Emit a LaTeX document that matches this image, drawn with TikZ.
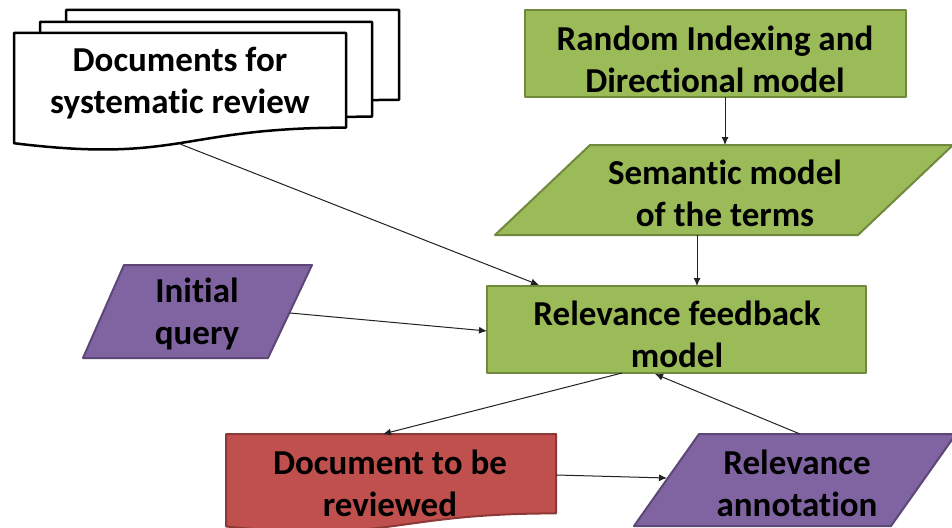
\documentclass[tikz,border=0pt]{standalone}
\usepackage{fontspec}
\setmainfont{Carlito}[Ligatures=NoCommon]
\usetikzlibrary{arrows.meta}
\definecolor{gfill}{HTML}{9BBB59}
\definecolor{gline}{HTML}{71893F}
\definecolor{pfill}{HTML}{8064A2}
\definecolor{pline}{HTML}{5C4776}
\definecolor{rfill}{HTML}{C0504D}
\definecolor{rline}{HTML}{8C3836}
\definecolor{conn}{HTML}{222222}
\newcommand\mydocpath[5]{%
  \path[#5] (#1,#2) -- ({#1+#3},#2) -- ({#1+#3},{#2+0.802*#4})
    .. controls ({#1+#3/2},{#2+0.802*#4}) and ({#1+#3/2},{#2+1.107*#4}) .. (#1,{#2+0.934*#4}) -- cycle;}
\tikzset{
  lbl/.style={align=center,font=\fontsize{35}{42}\selectfont\bfseries,inner sep=0pt},
  greenshape/.style={fill=gfill,draw=gline,line width=2pt,line join=round},
  purpleshape/.style={fill=pfill,draw=pline,line width=2pt,line join=round},
  redshape/.style={fill=rfill,draw=rline,line width=2pt,line join=round},
  docshape/.style={fill=white,draw=black,line width=2.5pt,line join=round},
  conn/.style={draw=conn,line width=1pt,-{Latex[length=8pt,width=7pt]}}
}
\begin{document}
\begin{tikzpicture}[x=1pt,y=-1pt]
\clip (0,0) rectangle (952,527);
\fill[white] (0,0) rectangle (952,527);
% multi-document
\mydocpath{66}{10}{333}{112}{docshape}
\mydocpath{40}{22}{332}{118}{docshape}
\mydocpath{14}{33}{332}{118}{docshape}
\node[lbl] (docs) at (180,83) {Documents for\\systematic review};
% random indexing
\path[greenshape] (525,10) rectangle (906,97);
\node[lbl] (rim) at (715,59) {Random Indexing and\\Directional model};
% semantic
\path[greenshape] (590,145) -- (953,145) -- (858,235) -- (495,235) -- cycle;
\node[lbl] (sem) at (725,193) {Semantic model\\of the terms};
% relevance feedback
\path[greenshape] (487,286) rectangle (866,373);
\node[lbl] (rfm) at (677,334) {Relevance feedback\\model};
% initial query
\path[purpleshape] (124,265) -- (312,265) -- (268,358) -- (83,358) -- cycle;
\node[lbl] (iq) at (197,314) {Initial\\query};
% document to be reviewed
\mydocpath{226}{434}{330}{99}{redshape}
\node[lbl] (dtr) at (390,483) {Document to be\\reviewed};
% relevance annotation
\path[purpleshape] (699,434) -- (956,434) -- (891,526) -- (634,526) -- cycle;
\node[lbl] (ra) at (797,483) {Relevance\\annotation};
% connector end points
\coordinate (rimS) at (725,97);
\coordinate (semN) at (725,145);
\coordinate (semS) at (697,235);
\coordinate (rfmN) at (697,286);
\coordinate (docsS) at (180,144);
\coordinate (rfmNW) at (539,285);
\coordinate (iqE) at (290,313);
\coordinate (rfmW) at (487,331);
\coordinate (rfmS1) at (622,373);
\coordinate (dtrN) at (383,434);
\coordinate (raN) at (800,434);
\coordinate (rfmS2) at (655,374);
\coordinate (dtrE) at (556,475);
\coordinate (raW) at (667,478);
\draw[conn] (rimS) -- (semN);
\draw[conn] (semS) -- (rfmN);
\draw[conn] (docsS) -- (rfmNW);
\draw[conn] (iqE) -- (rfmW);
\draw[conn] (rfmS1) -- (dtrN);
\draw[conn] (raN) -- (rfmS2);
\draw[conn] (dtrE) -- (raW);
\end{tikzpicture}
\end{document}
